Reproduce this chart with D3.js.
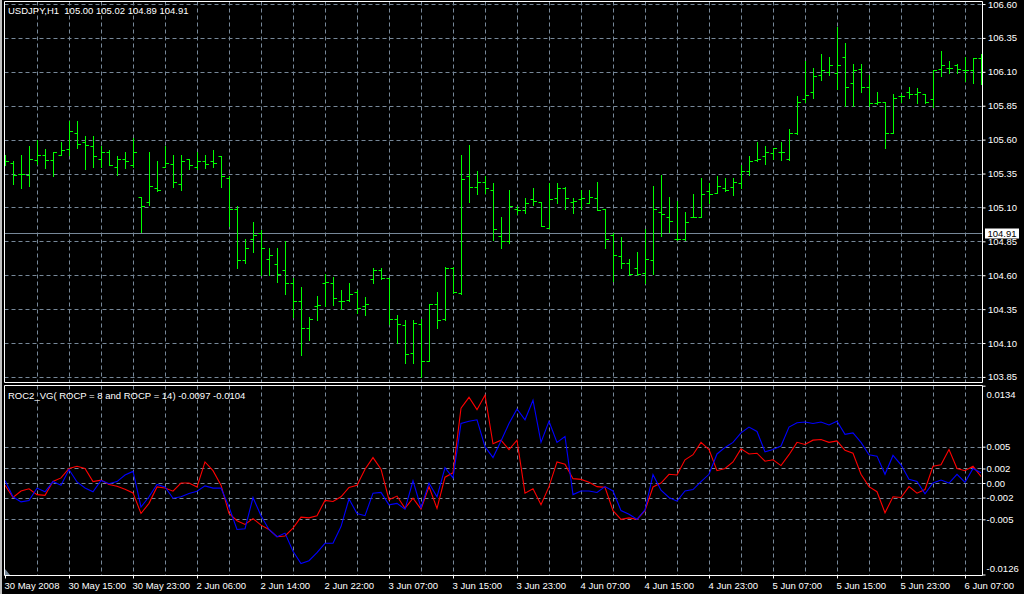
<!DOCTYPE html>
<html><head><meta charset="utf-8">
<script src="https://cdn.jsdelivr.net/npm/d3@7"></script>
<style>html,body{margin:0;padding:0;background:#000;overflow:hidden}svg{display:block}</style>
</head><body><svg id="c" width="1024" height="594"></svg>
<script>
// ---------------- data ----------------
const symbolTitle = "USDJPY,H1  105.00 105.02 104.89 104.91";
const indicatorTitle = "ROC2_VG( ROCP = 8 and ROCP = 14) -0.0097 -0.0104";
const bidPrice = 104.91;
const timeLabels = ["30 May 2008","30 May 15:00","30 May 23:00","2 Jun 06:00","2 Jun 14:00","2 Jun 22:00","3 Jun 07:00","3 Jun 15:00","3 Jun 23:00","4 Jun 07:00","4 Jun 15:00","4 Jun 23:00","5 Jun 07:00","5 Jun 15:00","5 Jun 23:00","6 Jun 07:00"];
const priceTicks = [106.60,106.35,106.10,105.85,105.60,105.35,105.10,104.85,104.60,104.35,104.10,103.85];
const rocTicks = [0.0134,0.005,0.002,0,-0.002,-0.005,-0.0126];
const rocTickLabels = ["0.0134","0.005","0.002","0.00","-0.002","-0.005","-0.0126"];
const rocGrid = [0.005,0.002,0,-0.002,-0.005];

const open = [105.44,105.43,105.35,105.34,105.45,105.49,105.45,105.49,105.53,105.65,105.58,105.55,105.46,105.51,105.40,105.46,105.41,105.18,105.14,105.24,
105.40,105.42,105.27,105.46,105.40,105.44,105.44,105.48,105.32,105.09,104.71,104.87,104.91,104.72,104.68,104.64,104.54,104.41,104.21,104.37,
104.54,104.54,104.41,104.42,104.48,104.37,104.57,104.64,104.58,104.28,104.23,104.03,104.24,103.97,104.39,104.28,104.65,104.47,105.33,105.25,
105.29,105.23,104.89,104.85,105.09,105.08,105.16,105.14,104.95,105.17,105.24,105.14,105.16,105.13,105.17,105.09,104.90,104.74,104.69,104.65,
104.62,104.71,105.07,105.03,104.87,104.87,105.03,105.03,105.22,105.21,105.24,105.25,105.28,105.37,105.45,105.48,105.50,105.51,105.46,105.65,
105.90,105.95,106.08,106.10,106.09,106.21,106.02,106.12,105.99,105.87,105.88,105.65,105.92,105.95,105.94,105.94,105.90,106.12,106.13,106.15,
106.11,106.11,106.20];
const high = [105.49,105.44,105.49,105.55,105.60,105.53,105.51,105.58,105.74,105.74,105.63,105.63,105.55,105.52,105.48,105.51,105.61,105.18,105.51,105.44,
105.55,105.49,105.49,105.46,105.51,105.49,105.52,105.48,105.33,105.11,104.87,104.99,104.93,104.80,104.80,104.85,104.58,104.51,104.29,104.45,
104.61,104.59,104.49,104.54,104.49,104.44,104.65,104.65,104.58,104.31,104.27,104.27,104.28,104.39,104.48,104.66,104.66,105.49,105.56,105.37,
105.33,105.28,105.03,105.23,105.11,105.17,105.24,105.14,105.28,105.28,105.25,105.17,105.23,105.23,105.29,105.09,104.91,104.88,104.72,104.77,
104.94,105.26,105.34,105.18,105.15,105.07,105.20,105.32,105.28,105.33,105.32,105.32,105.41,105.48,105.58,105.55,105.54,105.58,105.68,105.92,
106.18,106.13,106.23,106.21,106.43,106.31,106.16,106.16,106.08,105.95,105.88,105.94,105.94,105.99,105.98,105.94,106.11,106.25,106.18,106.16,
106.21,106.20,106.23];
const low = [105.41,105.27,105.24,105.26,105.42,105.39,105.33,105.49,105.49,105.54,105.38,105.40,105.40,105.41,105.34,105.39,105.40,104.92,105.12,105.22,
105.40,105.25,105.23,105.38,105.38,105.39,105.40,105.25,104.96,104.65,104.69,104.77,104.60,104.60,104.55,104.46,104.29,104.01,104.12,104.27,
104.37,104.38,104.35,104.41,104.32,104.31,104.54,104.57,104.24,104.10,103.95,103.95,103.85,103.97,104.21,104.27,104.47,104.46,105.14,105.20,
105.21,104.86,104.80,104.84,105.05,105.06,105.12,104.96,104.95,105.13,105.09,105.06,105.09,105.13,105.08,104.80,104.56,104.65,104.60,104.60,
104.54,104.61,104.89,104.92,104.86,104.86,105.03,105.03,105.13,105.21,105.22,105.19,105.24,105.34,105.44,105.42,105.46,105.45,105.45,105.64,
105.88,105.91,106.04,106.08,105.97,105.85,105.85,105.95,105.85,105.86,105.54,105.65,105.88,105.91,105.87,105.87,105.84,106.07,106.09,106.09,
106.03,106.02,106.01];
const close = [105.44,105.34,105.35,105.46,105.49,105.45,105.51,105.52,105.66,105.57,105.56,105.48,105.51,105.41,105.46,105.44,105.51,105.11,105.26,105.23,
105.43,105.29,105.44,105.41,105.44,105.42,105.43,105.33,105.09,104.71,104.80,104.90,104.80,104.75,104.61,104.54,104.41,104.21,104.28,104.38,
104.55,104.43,104.41,104.46,104.36,104.39,104.64,104.58,104.28,104.24,104.02,104.25,103.97,104.39,104.27,104.65,104.48,105.31,105.25,105.29,
105.24,104.94,104.85,105.11,105.08,105.13,105.15,104.96,105.16,105.24,105.17,105.15,105.17,105.18,105.08,104.87,104.75,104.69,104.61,104.61,
104.72,105.09,105.05,105.00,104.87,104.99,105.03,105.20,105.20,105.26,105.23,105.29,105.37,105.44,105.46,105.51,105.54,105.51,105.65,105.88,
105.93,106.07,106.11,106.15,106.15,105.99,106.11,105.99,105.87,105.88,105.65,105.91,105.92,105.94,105.95,105.88,106.11,106.15,106.13,106.12,
106.11,106.20,106.13];

// ROC lines (red = ROCP 8, blue = ROCP 14)
const rocRed = [-0.0003,-0.0020,-0.0011,-0.0008,-0.0016,-0.0017,0.0002,0.0007,0.0020,0.0023,0.0020,0.0002,0.0004,-0.0002,-0.00045,-0.00086,-0.00136,-0.0042,-0.0028,-0.00054,
-0.00068,-0.00113,0.0000,0.0000,-0.00054,0.0029,0.0017,-0.0003,-0.0042,-0.0052,-0.0057,-0.0049,-0.0058,-0.0064,-0.0074,-0.0073,-0.0062,-0.0047,-0.0048,-0.0045,
-0.0024,-0.00255,-0.0019,-0.0006,-0.0003,0.0019,0.0035,0.0019,-0.0023,-0.0018,-0.0035,-0.0021,-0.0036,-0.0005,-0.0035,0.0008,0.0014,0.0103,0.0118,0.0101,
0.0121,0.0054,0.0059,0.0046,0.0059,-0.0014,-0.0008,-0.0030,-0.0005,0.0029,0.0026,0.0006,0.0005,0.0001,-0.0005,-0.0006,-0.0038,-0.0050,-0.0048,-0.0050,
-0.0038,-0.00055,0.0000,0.0012,0.0011,0.0032,0.0039,0.0056,0.0046,0.0017,0.0020,0.0029,0.0047,0.0040,0.0041,0.0030,0.0032,0.0024,0.0039,0.0056,
0.0053,0.0059,0.0060,0.0056,0.0058,0.0045,0.0041,0.0012,-0.0005,-0.0012,-0.0041,-0.0019,-0.0020,-0.0005,-0.0014,-0.0009,0.0023,0.0025,0.0046,0.0020,
0.0017,0.0023,0.0009];
const rocBlue = [0.00036,-0.0019,-0.0026,-0.0024,-0.0007,-0.0012,0.0002,-0.0003,0.00186,0.00014,-0.00068,-0.0012,0.00036,-0.0001,0.0002,0.0011,0.0016,-0.0033,-0.0019,-0.0002,
-0.00054,-0.0021,-0.0019,-0.00145,-0.00113,-0.0004,-0.0007,-0.0007,-0.0033,-0.0064,-0.0063,-0.0020,-0.0045,-0.0064,-0.0074,-0.0069,-0.0094,-0.0111,-0.0107,-0.0096,
-0.0083,-0.0083,-0.0060,-0.0022,-0.0042,-0.0045,-0.0014,-0.0013,-0.0030,-0.0028,-0.0036,0.0003,-0.0034,0.0000,-0.0019,0.0021,0.0007,0.0082,0.0085,0.0087,
0.0050,0.0035,0.0058,0.0082,0.0102,0.0087,0.0114,0.0056,0.0085,0.0056,0.0064,-0.0016,-0.0011,-0.0011,-0.0013,-0.0005,-0.0011,-0.0038,-0.0043,-0.0050,
-0.0037,0.00115,-0.0010,-0.0020,-0.0025,-0.0011,-0.0009,0.0002,0.0012,0.0040,0.0049,0.0056,0.0069,0.0077,0.0071,0.0043,0.0046,0.0051,0.0077,0.0083,
0.0084,0.0082,0.0084,0.0080,0.0085,0.0067,0.0069,0.0056,0.0039,0.0037,0.0012,0.0038,0.0025,0.0005,0.0002,-0.0015,0.0000,0.0004,0.0000,0.0012,
0.0001,0.0020,0.0014];

// ---------------- drawing ----------------
const W = 1024, H = 594;
const FONT = "'Liberation Sans', Arial, sans-serif";
const FS = "9.5px";
const GRID = "#778899";
const svg = d3.select("#c");
svg.append("rect").attr("width", W).attr("height", H).attr("fill", "#000");

const left = 4.5, right = 982.5;
const mainTop = 1.5, mainBot = 382.5, indTop = 385.5, indBot = 575.5;

const n = close.length;
const x = d3.scaleLinear().domain([0, n - 1]).range([5, 981]);
const yP = d3.scaleLinear().domain([103.82, 106.615]).range([381, 2]);
const yR = d3.scaleLinear().domain([-0.0126, 0.0134]).range([574.5, 385.7]);
const px = v => Math.round(v) + 0.5;

// clip
const defs = svg.append("defs");
defs.append("clipPath").attr("id", "clipMain").append("rect")
  .attr("x", left).attr("y", mainTop).attr("width", right - left).attr("height", mainBot - mainTop);
defs.append("clipPath").attr("id", "clipInd").append("rect")
  .attr("x", left).attr("y", indTop).attr("width", right - left).attr("height", indBot - indTop);

// vertical grid
const vIdx = d3.range(4, n, 4);
[[mainTop, mainBot], [indTop, indBot]].forEach(([t, b]) => {
  svg.append("g").selectAll("line").data(vIdx).join("line")
    .attr("x1", d => px(x(d))).attr("x2", d => px(x(d)))
    .attr("y1", t).attr("y2", b)
    .attr("stroke", GRID).attr("stroke-width", 1).attr("stroke-dasharray", "4,3");
});
// horizontal grids
svg.append("g").selectAll("line").data(priceTicks).join("line")
  .attr("x1", left).attr("x2", right)
  .attr("y1", d => px(yP(d))).attr("y2", d => px(yP(d)))
  .attr("stroke", GRID).attr("stroke-dasharray", "4,3");
svg.append("g").selectAll("line").data(rocGrid).join("line")
  .attr("x1", left).attr("x2", right)
  .attr("y1", d => px(yR(d))).attr("y2", d => px(yR(d)))
  .attr("stroke", GRID).attr("stroke-dasharray", "4,3");

// bid line
svg.append("line").attr("x1", left).attr("x2", right)
  .attr("y1", px(yP(bidPrice))).attr("y2", px(yP(bidPrice)))
  .attr("stroke", GRID).attr("stroke-width", 1);

// OHLC bars
const bars = svg.append("g").attr("clip-path", "url(#clipMain)");
bars.selectAll("path").data(d3.range(n)).join("path")
  .attr("d", i => {
    const xx = px(x(i));
    const yh = Math.round(yP(high[i])), yl = Math.round(yP(low[i]));
    const yo = px(yP(open[i])), yc = px(yP(close[i]));
    return `M${xx},${yh}V${yl + 1}M${xx - 3},${yo}H${xx}M${xx},${yc}H${xx + 3.5}`;
  })
  .attr("stroke", "#00ff00").attr("stroke-width", 1).attr("fill", "none");

// ROC lines
const ind = svg.append("g").attr("clip-path", "url(#clipInd)");
const line = d3.line().x((d, i) => x(i)).y(d => yR(d));
ind.append("path").datum(rocRed).attr("d", line).attr("fill", "none").attr("stroke", "#ff0000").attr("stroke-width", 1.1);
ind.append("path").datum(rocBlue).attr("d", line).attr("fill", "none").attr("stroke", "#0000ff").attr("stroke-width", 1.1);

// frames
const frame = svg.append("g").attr("stroke", "#fff").attr("fill", "none").attr("stroke-width", 1);
frame.append("path").attr("d", `M${left},${mainBot}V${mainTop}H${right}V${mainBot}H${left}`);
frame.append("path").attr("d", `M${left},${indBot}V${indTop}H${right}V${indBot}H${left}`);

// left window strip
svg.append("rect").attr("x", 0).attr("y", 0).attr("width", 2).attr("height", H).attr("fill", "#c0c0c0");

// price axis
const pAxis = svg.append("g").attr("transform", `translate(${right},0)`)
  .call(d3.axisRight(yP).tickValues(priceTicks).tickFormat(d3.format(".2f")).tickSize(3).tickSizeOuter(0));
pAxis.select(".domain").remove();
pAxis.selectAll(".tick line").attr("stroke", "#fff");
pAxis.selectAll(".tick text").attr("fill", "#fff").attr("x", 5.5)
  .style("font-family", FONT).style("font-size", FS);

// bid label
const by = yP(bidPrice);
svg.append("rect").attr("x", 985).attr("y", Math.round(by) - 4.5).attr("width", 34).attr("height", 10).attr("fill", "#fff");
svg.append("text").attr("x", 987.5).attr("y", Math.round(by) + 3.5).text(bidPrice.toFixed(2))
  .attr("fill", "#000").style("font-family", FONT).style("font-size", FS);

// indicator axis
const rAxis = svg.append("g").attr("transform", `translate(${right},0)`)
  .call(d3.axisRight(yR).tickValues(rocTicks).tickFormat((d, i) => rocTickLabels[i]).tickSize(3).tickSizeOuter(0));
rAxis.select(".domain").remove();
rAxis.selectAll(".tick line").attr("stroke", "#fff");
rAxis.selectAll(".tick text").attr("fill", "#fff").attr("x", 4)
  .style("font-family", FONT).style("font-size", FS)
  .attr("dy", (d) => d === 0.0134 ? "1.2em" : d === -0.0126 ? "-0.3em" : "0.32em");

// time axis
const tIdx = timeLabels.map((d, i) => i * 8);
const tAxis = svg.append("g").attr("transform", `translate(0,${indBot})`)
  .call(d3.axisBottom(x).tickValues(tIdx).tickFormat((d, i) => timeLabels[i]).tickSize(3).tickSizeOuter(0));
tAxis.select(".domain").remove();
tAxis.selectAll(".tick line").attr("stroke", "#fff");
tAxis.selectAll(".tick text").attr("fill", "#fff").attr("text-anchor", "start")
  .attr("x", -1).attr("y", 13.5).attr("dy", 0)
  .style("font-family", FONT).style("font-size", FS);

// chart-shift marker
svg.append("path").attr("d", `M5,569L10,575L5,575Z`).attr("fill", GRID);

// titles
svg.append("text").attr("x", 8).attr("y", 14).text(symbolTitle)
  .attr("fill", "#fff").style("font-family", FONT).style("font-size", FS).style("white-space", "pre").attr("xml:space", "preserve");
svg.append("text").attr("x", 8).attr("y", 399).text(indicatorTitle)
  .attr("fill", "#fff").style("font-family", FONT).style("font-size", FS);
</script></body></html>
